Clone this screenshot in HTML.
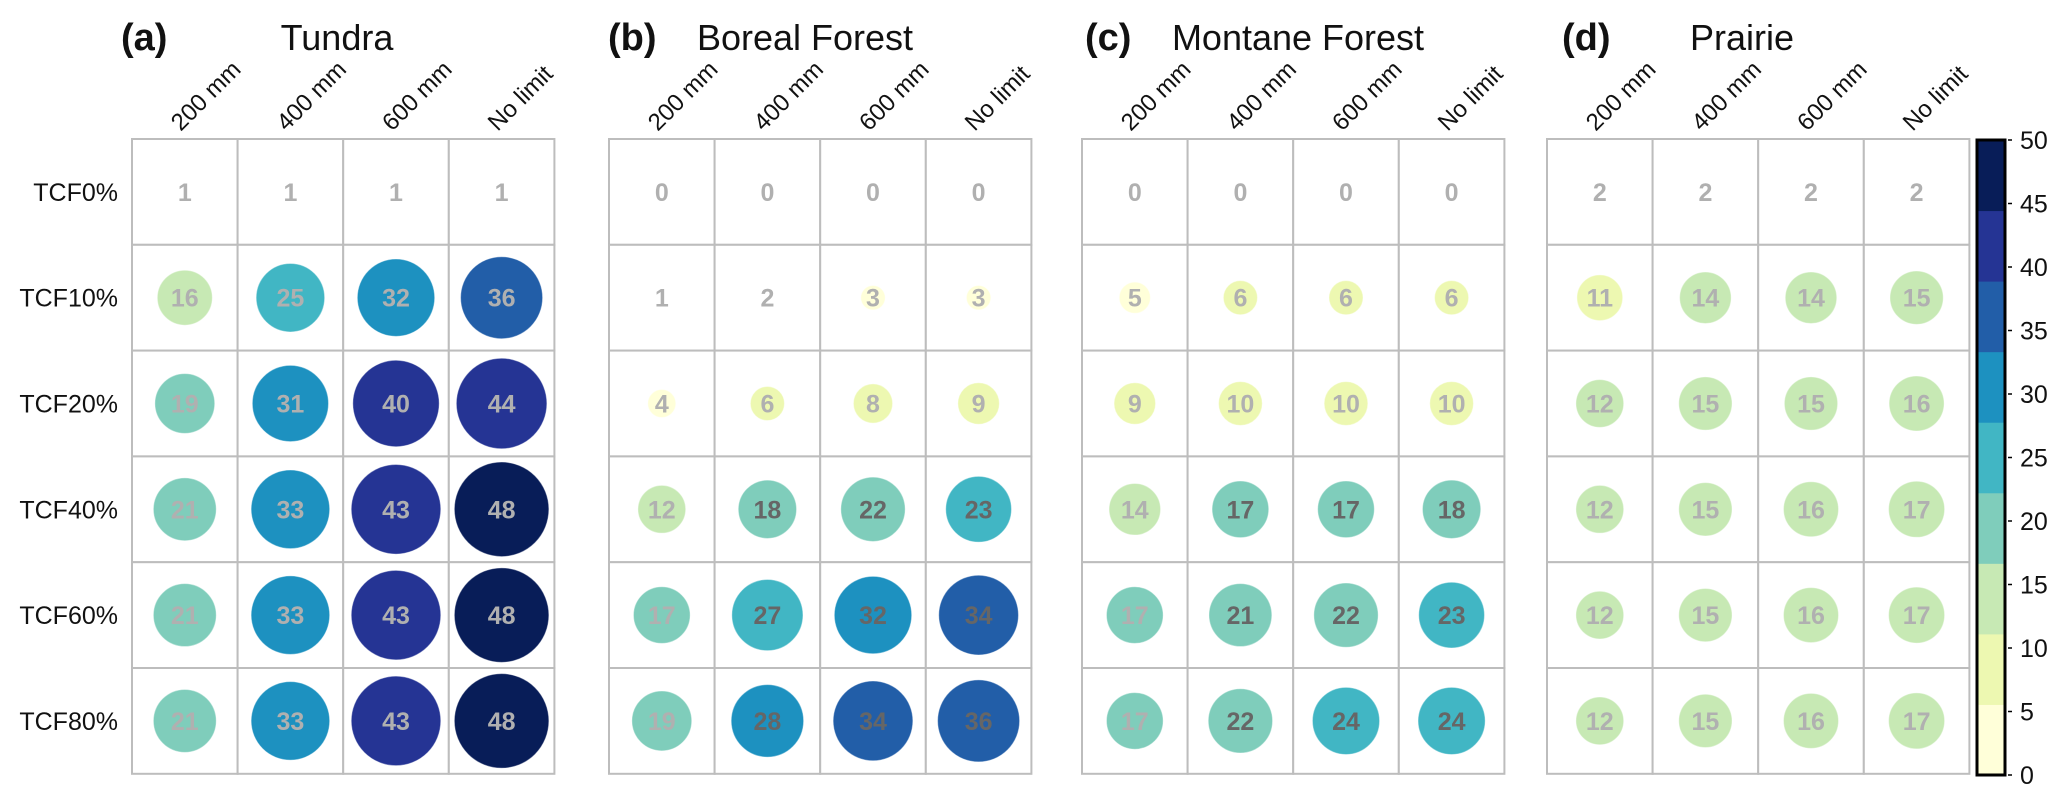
<!DOCTYPE html>
<html><head><meta charset="utf-8"><style>
html,body{margin:0;padding:0;background:#fff;}
svg{display:block;font-family:"Liberation Sans",Arial,sans-serif;}
</style></head><body>
<svg id="chart" width="2067" height="796" viewBox="0 0 2067 796" xmlns="http://www.w3.org/2000/svg"></svg>
<script>
const panelTags = ["(a)", "(b)", "(c)", "(d)"];
const panelNames = ["Tundra", "Boreal Forest", "Montane Forest", "Prairie"];
const columnLabels = ["200 mm", "400 mm", "600 mm", "No limit"];
const rowLabels = ["TCF0%", "TCF10%", "TCF20%", "TCF40%", "TCF60%", "TCF80%"];
const tundraValues = [[1,1,1,1],[16,25,32,36],[19,31,40,44],[21,33,43,48],[21,33,43,48],[21,33,43,48]];
const borealValues = [[0,0,0,0],[1,2,3,3],[4,6,8,9],[12,18,22,23],[17,27,32,34],[19,28,34,36]];
const montaneValues = [[0,0,0,0],[5,6,6,6],[9,10,10,10],[14,17,17,18],[17,21,22,23],[17,22,24,24]];
const prairieValues = [[2,2,2,2],[11,14,14,15],[12,15,15,16],[12,15,16,16.6],[12,15,16,16.6],[12,15,16,16.6]];
const darkLabelMask = [
  [[0,0,0,0],[0,0,0,0],[0,0,0,0],[0,0,0,0],[0,0,0,0],[0,0,0,0]],
  [[0,0,0,0],[0,0,0,0],[0,0,0,0],[0,1,1,1],[0,1,1,1],[0,1,1,1]],
  [[0,0,0,0],[0,0,0,0],[0,0,0,0],[0,1,1,1],[0,1,1,1],[0,1,1,1]],
  [[0,0,0,0],[0,0,0,0],[0,0,0,0],[0,0,0,0],[0,0,0,0],[0,0,0,0]]
];
const colorTicks = [0,5,10,15,20,25,30,35,40,45,50];
const palette = ["#ffffd9","#edf8b1","#c7e9b4","#7fcdbb","#41b6c4","#1d91c0","#225ea8","#253494","#081d58"];
const allPanels = [tundraValues, borealValues, montaneValues, prairieValues];

const NS = "http://www.w3.org/2000/svg";
const svg = document.getElementById("chart");
function mk(tag, attrs, parent){ const e=document.createElementNS(NS,tag); for(const k in attrs) e.setAttribute(k,attrs[k]); (parent||svg).appendChild(e); return e; }

const panelX = [132, 609, 1082, 1547];
const titleX = [337, 805, 1298, 1742];
const tagX = [121, 608, 1085, 1562];
const top0 = 139, cellW = 105.6, cellH = 105.8;
const vmax = 50;
const xPos = (p, c) => panelX[p] + cellW*(c+0.5);
const yPos = r => top0 + cellH*(r+0.5);
const rScale = v => 6.75*Math.sqrt(Math.max(v,0));
const colorOf = v => palette[Math.min(palette.length-1, Math.floor(v/(vmax/palette.length)))];

allPanels.forEach((vals, p) => {
  const g = mk("g", {});
  
  
  const tag = mk("text", {x: tagX[p], y: 50, "font-size": 38, "font-weight": "bold", fill: "#111"}, g);
  tag.textContent = panelTags[p];
  
  
  const title = mk("text", {x: titleX[p], y: 50, "font-size": 36, "text-anchor": "middle", fill: "#111"}, g);
  title.textContent = panelNames[p];
  
  
  columnLabels.forEach((lab, c) => {
    const x = xPos(p, c) - 4, y = 132;
    const t = mk("text", {x: x, y: y, "font-size": 24, fill: "#111", transform: `rotate(-45 ${x} ${y})`}, g);
    t.textContent = lab;
    
    
  });
  if (p === 0) {
    rowLabels.forEach((lab, r) => {
      const t = mk("text", {x: 118, y: yPos(r)+9, "font-size": 25, "text-anchor": "end", fill: "#111"}, g);
      t.textContent = lab;
      
      
    });
  }
  vals.forEach((row, r) => row.forEach((v, c) => {
    const x0 = panelX[p] + cellW*c, y0 = top0 + cellH*r;
    const cell = mk("rect", {x: x0, y: y0, width: cellW, height: cellH, fill: "#fff", stroke: "#bdbdbd", "stroke-width": 2}, g);
    
    
    if (v >= 3) {
      const circ = mk("circle", {cx: xPos(p,c), cy: yPos(r), r: rScale(v), fill: colorOf(v), stroke: colorOf(v), "stroke-opacity": 0.6}, g);
      
      
    }
    const t = mk("text", {x: xPos(p,c), y: yPos(r)+9, "font-size": 25, "font-weight": "bold", "text-anchor": "middle",
      fill: darkLabelMask[p][r][c] ? "#666" : "#b0b0b0"}, g);
    t.textContent = Math.round(v);
    
    
  }));
});

// colorbar
const cbX = 1977, cbW = 28, cbTop = 140, cbBot = 775;
const cbY = v => cbBot - (v/vmax)*(cbBot-cbTop);
const cb = mk("g", {});


palette.forEach((col, i) => {
  const a = i*vmax/palette.length, b = (i+1)*vmax/palette.length;
  const s = mk("rect", {x: cbX, y: cbY(b), width: cbW, height: cbY(a)-cbY(b)+0.5, fill: col}, cb);
  
  
});
const frame = mk("rect", {x: cbX, y: cbTop, width: cbW, height: cbBot-cbTop, fill: "none", stroke: "#000", "stroke-width": 3}, cb);


colorTicks.forEach(v => {
  const tk = mk("line", {x1: cbX+cbW+3, x2: cbX+cbW+7, y1: cbY(v), y2: cbY(v), stroke: "#000", "stroke-width": 1.5}, cb);
  
  
  const t = mk("text", {x: 2020, y: cbY(v)+9, "font-size": 25, fill: "#111"}, cb);
  t.textContent = v;
  
  
});
</script>
</body></html>
